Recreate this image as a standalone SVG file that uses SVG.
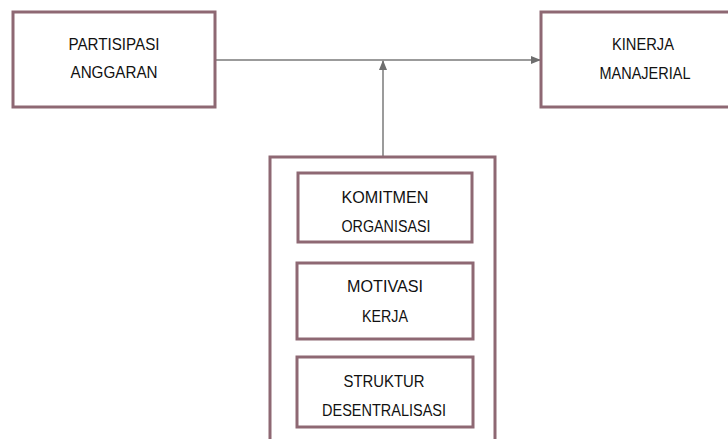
<svg xmlns="http://www.w3.org/2000/svg" width="728" height="439" viewBox="0 0 728 439">
<style>
.box{fill:#fff;stroke:#8e6873;stroke-width:3}
.t{font-family:"Liberation Sans",Arial,sans-serif;font-size:16.5px;fill:#111;text-anchor:middle}
.c{stroke:#7a7a7a;stroke-width:1.5;fill:none}
</style>
<defs>
<marker id="ah" markerWidth="10" markerHeight="8" refX="9" refY="4" orient="auto" markerUnits="userSpaceOnUse">
<path d="M0,0 L10,4 L0,8 Z" fill="#6e6e6e"/>
</marker>
</defs>
<g id="connectors">
<line class="c" x1="215" y1="60" x2="540" y2="60" marker-end="url(#ah)"/>
<line class="c" x1="383" y1="157" x2="383" y2="61" marker-end="url(#ah)"/>
</g>
<g id="partisipasi">
<rect class="box" x="13" y="12" width="202" height="95"/>
<text class="t" x="114" y="50" textLength="91" lengthAdjust="spacingAndGlyphs">PARTISIPASI</text>
<text class="t" x="114" y="78" textLength="87" lengthAdjust="spacingAndGlyphs">ANGGARAN</text>
</g>
<g id="kinerja">
<rect class="box" x="541" y="12" width="202" height="95"/>
<text class="t" x="643" y="50" textLength="62" lengthAdjust="spacingAndGlyphs">KINERJA</text>
<text class="t" x="645" y="79" textLength="91" lengthAdjust="spacingAndGlyphs">MANAJERIAL</text>
</g>
<g id="moderasi">
<path class="box" d="M270,445 L270,157 L495,157 L495,445"/>
</g>
<g id="komitmen">
<rect class="box" x="298" y="173" width="174" height="69"/>
<text class="t" x="385" y="203" textLength="87" lengthAdjust="spacingAndGlyphs">KOMITMEN</text>
<text class="t" x="386" y="232" textLength="89" lengthAdjust="spacingAndGlyphs">ORGANISASI</text>
</g>
<g id="motivasi">
<rect class="box" x="297" y="263" width="176" height="76"/>
<text class="t" x="385" y="292" textLength="76" lengthAdjust="spacingAndGlyphs">MOTIVASI</text>
<text class="t" x="385" y="322" textLength="46" lengthAdjust="spacingAndGlyphs">KERJA</text>
</g>
<g id="struktur">
<rect class="box" x="297" y="357" width="176" height="70"/>
<text class="t" x="384" y="387" textLength="81" lengthAdjust="spacingAndGlyphs">STRUKTUR</text>
<text class="t" x="384" y="416" textLength="124" lengthAdjust="spacingAndGlyphs">DESENTRALISASI</text>
</g>
</svg>
